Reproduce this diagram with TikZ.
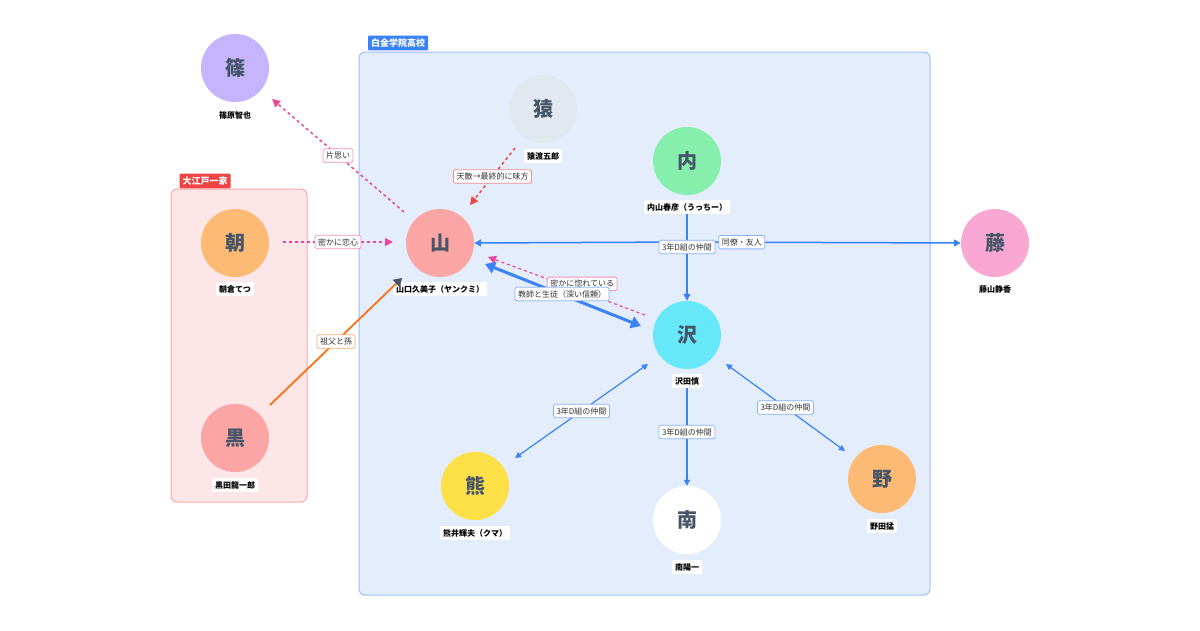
\documentclass[tikz,border=0pt]{standalone}
\usepackage{fontspec}
\setmainfont{Noto Sans CJK JP}
\usetikzlibrary{arrows.meta}
\definecolor{tx}{HTML}{475569}
\definecolor{bl}{HTML}{3B82F6}
\definecolor{pk}{HTML}{EC4899}
\definecolor{rd}{HTML}{EF4444}
\definecolor{og}{HTML}{F97316}
\definecolor{cShino}{HTML}{C4B5FD}
\definecolor{cSaru}{HTML}{E2E8F0}
\definecolor{cUchi}{HTML}{86EFAC}
\definecolor{cYama}{HTML}{FCA5A5}
\definecolor{cFuji}{HTML}{F9A8D4}
\definecolor{cAsa}{HTML}{FDBA74}
\definecolor{cSawa}{HTML}{67E8F9}
\definecolor{cKuma}{HTML}{FDE047}
\definecolor{gBlue}{HTML}{E3EDFC}
\definecolor{gRed}{HTML}{FDE6E7}
\begin{document}
\begin{tikzpicture}[x=1pt,y=-1pt,
 ch/.style={circle,minimum size=68pt,inner sep=0pt,fill=#1,text=tx,font=\bfseries\fontsize{20}{20}\selectfont},
 nm/.style={fill=white,rounded corners=1pt,inner sep=3pt,font=\bfseries\fontsize{8}{9}\selectfont},
 el/.style={fill=white,draw=#1!60,solid,line width=0.8pt,rounded corners=1.5pt,inner sep=3pt,font=\fontsize{8}{9}\selectfont,text=black!80},
 tag/.style={fill=#1,text=white,rounded corners=1pt,inner sep=3pt,font=\bfseries\fontsize{9}{10}\selectfont},
 dpk/.style={pk,line width=1.5pt,dash pattern=on 3pt off 3pt,-{Triangle[length=8pt,width=8pt]}},
 bln/.style={bl,line width=1.2pt,{Triangle[length=6pt,width=6pt]}-{Triangle[length=6pt,width=6pt]}}]
\useasboundingbox (0,0) rectangle (1200,630);
\fill[white] (0,0) rectangle (1200,630);
% groups
\draw[fill=gBlue,draw=bl!50,rounded corners=6pt,line width=1pt] (359,52) rectangle (930,595);
\node[tag=bl] (g1) at (398,43) {白金学院高校};
\draw[fill=gRed,draw=rd!45,rounded corners=6pt,line width=1pt] (171,189) rectangle (307,502);
\node[tag=rd] (g2) at (205,181) {大江戸一家};
% nodes
\node[ch=cShino] (shino) at (235,68) {篠}; \node[nm] (lshino) at (235,115) {篠原智也};
\node[ch=cSaru] (saru) at (543,109) {猿}; \node[nm] (lsaru) at (543,156) {猿渡五郎};
\node[ch=cUchi] (uchi) at (687,161) {内}; \node[nm] (luchi) at (687,207) {内山春彦（うっちー）};
\node[ch=cYama] (yama) at (440,243) {山}; \node[nm] (lyama) at (440,289) {山口久美子（ヤンクミ）};
\node[ch=cFuji] (fuji) at (995,243) {藤}; \node[nm] (lfuji) at (995,289) {藤山静香};
\node[ch=cAsa] (asa) at (235,243) {朝}; \node[nm] (lasa) at (235,289) {朝倉てつ};
\node[ch=cSawa] (sawa) at (687,335) {沢}; \node[nm] (lsawa) at (687,381) {沢田慎};
\node[ch=cYama] (kuro) at (235,438) {黒}; \node[nm] (lkuro) at (235,485) {黒田龍一郎};
\node[ch=cKuma] (kuma) at (475,486) {熊}; \node[nm] (lkuma) at (475,533) {熊井輝夫（クマ）};
\node[ch=white] (mina) at (687,520) {南}; \node[nm] (lmina) at (687,567) {南陽一};
\node[ch=cAsa] (no) at (882,479) {野}; \node[nm] (lno) at (882,526) {野田猛};
% coordinates
\coordinate (J) at (687,242);
\coordinate (shA) at (404,212); \coordinate (shB) at (272,99);
\coordinate (saA) at (515,148); \coordinate (saB) at (470,205);
\coordinate (asA) at (283,242); \coordinate (asB) at (393,242);
\coordinate (kuA) at (270,405); \coordinate (kuB) at (402,278);
\coordinate (ysA) at (485,264); \coordinate (ysB) at (641,326);
\coordinate (skA) at (645,315); \coordinate (skB) at (488,257);
\coordinate (kmA) at (648,364); \coordinate (kmB) at (515,458);
\coordinate (nA) at (726,364); \coordinate (nB) at (845,451);
% edges
\draw[dpk] (shA) -- node[el=pk,pos=0.5] (e1) {片思い} (shB);
\draw[dpk,rd] (saA) -- node[el=rd] (e2) {天敵→最終的に味方} (saB);
\draw[dpk] (asA) -- node[el=pk,pos=0.5] (e3) {密かに恋心} (asB);
\draw[og,line width=1.8pt,-{Triangle[length=8pt,width=10pt,fill=tx,color=tx]}] (kuA) -- node[el=og,pos=0.5] (e4) {祖父と孫} (kuB);
\draw[bl,line width=1.5pt] (luchi) -- (J);
\draw[bl,line width=1.5pt,-{Triangle[length=7pt,width=7pt]}] (J) -- (yama.east);
\draw[bl,line width=1.5pt,-{Triangle[length=7pt,width=7pt]}] (J) -- node[el=bl,pos=0.2] (e6) {同僚・友人} (fuji.west);
\draw[bl,line width=1.5pt,-{Triangle[length=7pt,width=7pt]}] (J) -- (sawa.north);
\node[el=bl] (e5) at (687,247) {3年D組の仲間};
\draw[bl,line width=3pt,{Triangle[length=10pt,width=12pt]}-{Triangle[length=10pt,width=12pt]}] (ysA) -- (ysB);
\draw[dpk,line width=1.2pt] (skA) -- node[el=pk,pos=0.4,yshift=8pt] (e8) {密かに惚れている} (skB);
\node[el=bl] (e7) at (562,294) {教師と生徒（深い信頼）};
\draw[bln] (kmA) -- node[el=bl] (e9) {3年D組の仲間} (kmB);
\draw[bl,line width=1.2pt,-{Triangle[length=6pt,width=6pt]}] (lsawa) -- node[el=bl,pos=0.45] (e10) {3年D組の仲間} (mina.north);
\draw[bln] (nA) -- node[el=bl,pos=0.5] (e11) {3年D組の仲間} (nB);
\end{tikzpicture}
\end{document}
